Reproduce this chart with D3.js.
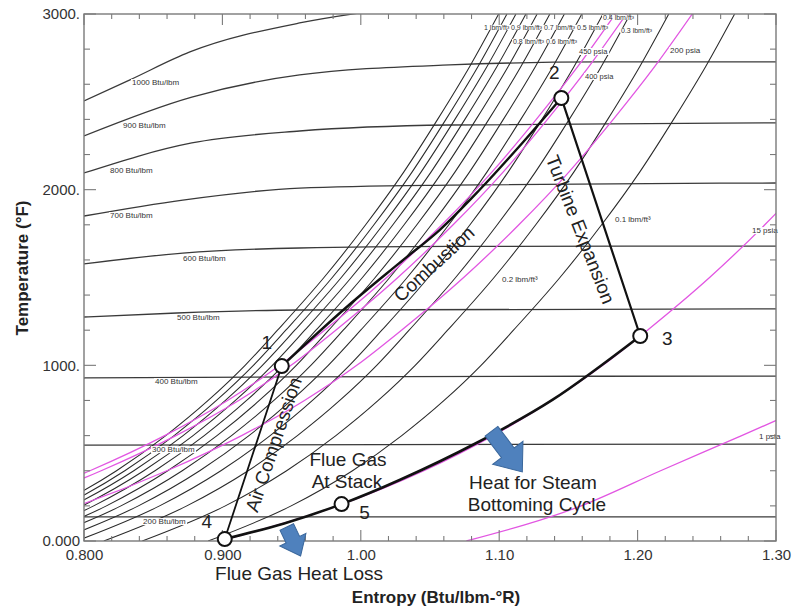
<!DOCTYPE html>
<html>
<head>
<meta charset="utf-8">
<script src="https://cdn.jsdelivr.net/npm/d3@7"></script>
<style>
  body { margin: 0; background: #fff; }
  svg { display: block; }
</style>
</head>
<body>
<svg id="chart" width="793" height="611"></svg>
<script>
// ---- Temperature levels (°F) shared by the steep property lines ----
const tempLevels = [0, 200, 400, 600, 800, 1000, 1200, 1500, 1800, 2100, 2400, 2700, 3000];

// ---- Constant-pressure lines: entropy (Btu/lbm-°R) at each temperature level ----
const isobarLabels = ["450 psia", "400 psia", "200 psia", "15 psia"];
const isobar450 = [0.6551, 0.7399, 0.8043, 0.8583, 0.9037, 0.9415, 0.9738, 1.0187, 1.0586, 1.0947, 1.1268, 1.1567, 1.1839];
const isobar400 = [0.6632, 0.7480, 0.8124, 0.8664, 0.9118, 0.9496, 0.9819, 1.0268, 1.0667, 1.1028, 1.1349, 1.1648, 1.1920];
const isobar200 = [0.7107, 0.7955, 0.8599, 0.9139, 0.9593, 0.9971, 1.0294, 1.0743, 1.1142, 1.1503, 1.1824, 1.2123, 1.2395];
const isobar15  = [0.8984, 0.9832, 1.0456, 1.0956, 1.1380, 1.1748, 1.2071, 1.2520, 1.2919, 1.3280, 1.3601, 1.3900, 1.4172];
const isobar1   = [1.0763, 1.1592, 1.2166, 1.2752, 1.3330];

// ---- Constant-density lines (lbm/ft³): entropy at each temperature level ----
const densityLabels = ["", "", "1 lbm/ft³", "0.9 lbm/ft³", "0.8 lbm/ft³", "0.7 lbm/ft³", "0.6 lbm/ft³",
                       "0.5 lbm/ft³", "0.4 lbm/ft³", "0.3 lbm/ft³", "0.2 lbm/ft³", "0.1 lbm/ft³"];
const density12 = [0.7192, 0.7792, 0.8235, 0.8591, 0.8897, 0.9164, 0.9398, 0.9734, 1.0035, 1.0310, 1.0555, 1.0786, 1.0996];
const density11 = [0.7252, 0.7852, 0.8295, 0.8651, 0.8957, 0.9224, 0.9458, 0.9794, 1.0095, 1.0370, 1.0615, 1.0846, 1.1056];
const density10 = [0.7317, 0.7917, 0.8360, 0.8716, 0.9022, 0.9289, 0.9523, 0.9859, 1.0160, 1.0435, 1.0680, 1.0911, 1.1121];
const density09 = [0.7389, 0.7989, 0.8432, 0.8788, 0.9094, 0.9361, 0.9595, 0.9931, 1.0232, 1.0507, 1.0752, 1.0983, 1.1193];
const density08 = [0.7470, 0.8070, 0.8513, 0.8869, 0.9175, 0.9442, 0.9676, 1.0012, 1.0313, 1.0588, 1.0833, 1.1064, 1.1274];
const density07 = [0.7562, 0.8162, 0.8605, 0.8961, 0.9267, 0.9534, 0.9768, 1.0104, 1.0405, 1.0680, 1.0925, 1.1156, 1.1366];
const density06 = [0.7667, 0.8267, 0.8710, 0.9066, 0.9372, 0.9639, 0.9873, 1.0209, 1.0510, 1.0785, 1.1030, 1.1261, 1.1471];
const density05 = [0.7793, 0.8393, 0.8836, 0.9192, 0.9498, 0.9765, 0.9999, 1.0335, 1.0636, 1.0911, 1.1156, 1.1387, 1.1597];
const density04 = [0.7946, 0.8546, 0.8989, 0.9345, 0.9651, 0.9918, 1.0152, 1.0488, 1.0789, 1.1064, 1.1309, 1.1540, 1.1750];
const density03 = [0.8143, 0.8743, 0.9186, 0.9542, 0.9848, 1.0115, 1.0349, 1.0685, 1.0986, 1.1261, 1.1506, 1.1737, 1.1947];
const density02 = [0.8421, 0.9021, 0.9464, 0.9820, 1.0126, 1.0393, 1.0627, 1.0963, 1.1264, 1.1539, 1.1784, 1.2015, 1.2225];
const density01 = [0.8897, 0.9497, 0.9940, 1.0296, 1.0602, 1.0869, 1.1103, 1.1439, 1.1740, 1.2015, 1.2260, 1.2491, 1.2701];

// ---- Constant-enthalpy lines: [entropy, temperature] pairs ----
const enthalpyLabels = ["200 Btu/lbm", "300 Btu/lbm", "400 Btu/lbm", "500 Btu/lbm", "600 Btu/lbm",
                        "700 Btu/lbm", "800 Btu/lbm", "900 Btu/lbm", "1000 Btu/lbm"];
const enthalpy200  = [[0.800, 137], [1.300, 137]];
const enthalpy300  = [[0.800, 546], [1.300, 552]];
const enthalpy400  = [[0.800, 928], [0.950, 934], [1.300, 939]];
const enthalpy500  = [[0.800, 1275], [0.8671, 1298], [0.9558, 1315], [1.300, 1321]];
const enthalpy600  = [[0.800, 1577], [0.8714, 1639], [0.9558, 1668], [1.0641, 1677], [1.300, 1679]];
const enthalpy700  = [[0.800, 1850], [0.8714, 1941], [0.9558, 2009], [1.0641, 2026], [1.300, 2038]];
const enthalpy800  = [[0.800, 2095], [0.8779, 2266], [0.9558, 2334], [1.0641, 2368], [1.300, 2380]];
const enthalpy900  = [[0.800, 2306], [0.8779, 2527], [0.9558, 2653], [1.0641, 2710], [1.1723, 2727], [1.300, 2727]];
const enthalpy1000 = [[0.800, 2505], [0.8332, 2625], [0.8765, 2784], [0.9558, 2949], [0.9991, 3006], [1.050, 3055]];

// ---- Gas turbine cycle state points ----
const stateNames   = ["1", "2", "3", "4", "5"];
const stateEntropy = [0.9429, 1.1449, 1.2019, 0.9017, 0.9861];
const stateTemp    = [996, 2522, 1167, 11, 210];

// Combustion path 1 -> 2
const combustionEntropy = [0.9429, 0.9898, 1.0280, 1.0569, 1.0857, 1.1167, 1.1449];
const combustionTemp    = [996, 1332, 1583, 1770, 1998, 2266, 2522];
// Exhaust cooling path 3 -> 5 -> 4
const exhaustEntropy = [1.2019, 1.1384, 1.0835, 1.0280, 0.9861, 0.9446, 0.9017];
const exhaustTemp    = [1167, 803, 558, 347, 210, 100, 11];

// ---- Axis tick values and labels ----
const xTickValues = [0.8, 0.9, 1.0, 1.1, 1.2, 1.3];
const xTickLabels = ["0.800", "0.900", "1.00", "1.10", "1.20", "1.30"];
const yTickValues = [0, 1000, 2000, 3000];
const yTickLabels = ["0.000", "1000.", "2000.", "3000."];

// =================== drawing ===================
const svg = d3.select("#chart");
const W = 793, H = 611;
const plot = { left: 84, right: 776, top: 14, bottom: 541 };

const x = d3.scaleLinear().domain([0.8, 1.3]).range([plot.left, plot.right]);
const y = d3.scaleLinear().domain([0, 3000]).range([plot.bottom, plot.top]);

const MAGENTA = "#e256e2";
const FONT = "Arial, 'Liberation Sans', Helvetica, sans-serif";

svg.append("rect").attr("width", W).attr("height", H).attr("fill", "#fff");

svg.append("defs").append("clipPath").attr("id", "plotClip")
  .append("rect")
  .attr("x", plot.left).attr("y", plot.top)
  .attr("width", plot.right - plot.left).attr("height", plot.bottom - plot.top);

const curves = svg.append("g").attr("clip-path", "url(#plotClip)");

const smoothLine = d3.line().x(d => x(d[0])).y(d => y(d[1])).curve(d3.curveMonotoneX);
const pairUp = (sArr, tArr) => sArr.map((s, i) => [s, tArr[i]]);

// Constant-enthalpy lines
[enthalpy200, enthalpy300, enthalpy400, enthalpy500, enthalpy600,
 enthalpy700, enthalpy800, enthalpy900, enthalpy1000].forEach(pts => {
  curves.append("path").attr("d", smoothLine(pts))
    .attr("fill", "none").attr("stroke", "#3a3a3a").attr("stroke-width", 1.3);
});

// Constant-density lines
const densitySeries = [density12, density11, density10, density09, density08, density07, density06,
                       density05, density04, density03, density02, density01];
densitySeries.forEach(sArr => {
  curves.append("path").attr("d", smoothLine(pairUp(sArr, tempLevels)))
    .attr("fill", "none").attr("stroke", "#2a2a2a").attr("stroke-width", 1.05);
});

// Constant-pressure lines
[isobar450, isobar400, isobar200, isobar15, isobar1].forEach(sArr => {
  curves.append("path").attr("d", smoothLine(pairUp(sArr, tempLevels.slice(0, sArr.length))))
    .attr("fill", "none").attr("stroke", MAGENTA).attr("stroke-width", 1.3);
});

// ---- small curve labels (white backed) ----
const smallLabels = svg.append("g").attr("font-family", FONT).attr("fill", "#333");
function smallLabel(text, px, py, size) {
  if (!text) return;
  const g = smallLabels.append("g");
  const t = g.append("text").attr("x", px).attr("y", py).attr("font-size", size)
    .attr("dominant-baseline", "middle").text(text);
  const b = t.node().getBBox();
  g.insert("rect", "text").attr("x", b.x - 1).attr("y", b.y + 1).attr("width", b.width + 2)
    .attr("height", b.height - 2).attr("fill", "#fff");
}
// enthalpy labels
const hSpots = [[143, 522], [152, 450], [155, 382], [177, 318], [183, 259], [110, 216], [110, 171], [123, 126], [132, 83]];
enthalpyLabels.forEach((t, i) => smallLabel(t, hSpots[i][0], hSpots[i][1], 8));
// density labels
const dSpots = [null, null, [484, 28], [511, 28], [513, 42], [544, 28], [546, 42], [577, 28], [603, 18], [621, 31], [502, 280], [615, 220]];
densityLabels.forEach((t, i) => { if (dSpots[i]) smallLabel(t, dSpots[i][0], dSpots[i][1], i >= 10 ? 8 : 7); });
// pressure labels
const pSpots = [[579, 52], [585, 77], [670, 51], [752, 231]];
isobarLabels.forEach((t, i) => smallLabel(t, pSpots[i][0], pSpots[i][1], i < 2 ? 7.5 : 8));
smallLabel("1 psia", 759, 437, 8);

// ---- frame and ticks ----
const axes = svg.append("g").attr("stroke", "#7a7a7a").attr("fill", "none");
axes.append("rect").attr("x", plot.left).attr("y", plot.top)
  .attr("width", plot.right - plot.left).attr("height", plot.bottom - plot.top)
  .attr("stroke-width", 1.4);

const minorX = d3.range(0.8, 1.3001, 0.02);
const minorY = d3.range(0, 3001, 200);
minorX.forEach(v => {
  const major = Math.abs(v * 10 - Math.round(v * 10)) < 1e-6;
  const len = major ? 11 : 5;
  axes.append("line").attr("x1", x(v)).attr("x2", x(v)).attr("y1", plot.bottom).attr("y2", plot.bottom - len).attr("stroke-width", 1.1);
  axes.append("line").attr("x1", x(v)).attr("x2", x(v)).attr("y1", plot.top).attr("y2", plot.top + len).attr("stroke-width", 1.1);
});
minorY.forEach(v => {
  const major = v % 1000 === 0;
  const len = major ? 12 : 6;
  axes.append("line").attr("y1", y(v)).attr("y2", y(v)).attr("x1", plot.left).attr("x2", plot.left + len).attr("stroke-width", 1.1);
  axes.append("line").attr("y1", y(v)).attr("y2", y(v)).attr("x1", plot.right).attr("x2", plot.right - len).attr("stroke-width", 1.1);
});

// tick labels through d3 axes (lines hidden, labels only)
const xAxis = d3.axisBottom(x).tickValues(xTickValues).tickSize(0).tickPadding(0)
  .tickFormat((d, i) => xTickLabels[i]);
const gx = svg.append("g").attr("transform", `translate(0,${plot.bottom + 8})`).call(xAxis);
gx.select(".domain").remove();
gx.selectAll("text").attr("font-family", FONT).attr("font-size", 15).attr("fill", "#333");

const yAxis = d3.axisLeft(y).tickValues(yTickValues).tickSize(0).tickPadding(0)
  .tickFormat((d, i) => yTickLabels[i]);
const gy = svg.append("g").attr("transform", `translate(${plot.left - 4},0)`).call(yAxis);
gy.select(".domain").remove();
gy.selectAll("text").attr("font-family", FONT).attr("font-size", 15).attr("fill", "#333");

// axis titles
svg.append("text").attr("x", 436).attr("y", 603).attr("text-anchor", "middle")
  .attr("font-family", FONT).attr("font-weight", "bold").attr("font-size", 17).attr("fill", "#222")
  .text("Entropy (Btu/lbm-°R)");
svg.append("text").attr("transform", "translate(28,268) rotate(-90)").attr("text-anchor", "middle")
  .attr("font-family", FONT).attr("font-weight", "bold").attr("font-size", 17).attr("fill", "#222")
  .text("Temperature (°F)");

// ---- cycle ----
const cycle = svg.append("g").attr("fill", "none").attr("stroke", "#111").attr("stroke-linecap", "round");
const straight = d3.line().x(d => x(d[0])).y(d => y(d[1]));
const st = i => [stateEntropy[i], stateTemp[i]];
// compression 4 -> 1
cycle.append("path").attr("d", straight([st(3), st(0)])).attr("stroke-width", 1.8);
// combustion 1 -> 2
cycle.append("path").attr("d", d3.line().x(d => x(d[0])).y(d => y(d[1])).curve(d3.curveCatmullRom)(pairUp(combustionEntropy, combustionTemp)))
  .attr("stroke-width", 2.4);
// expansion 2 -> 3
cycle.append("path").attr("d", straight([st(1), st(2)])).attr("stroke-width", 2.2);
// exhaust 3 -> 5 -> 4
cycle.append("path").attr("d", d3.line().x(d => x(d[0])).y(d => y(d[1])).curve(d3.curveCatmullRom)(pairUp(exhaustEntropy, exhaustTemp)))
  .attr("stroke-width", 2.6);

// state circles
svg.append("g").selectAll("circle").data(stateNames).join("circle")
  .attr("cx", (d, i) => x(stateEntropy[i])).attr("cy", (d, i) => y(stateTemp[i]))
  .attr("r", 7).attr("fill", "#fff").attr("stroke", "#111").attr("stroke-width", 2);

// state numbers
const numOffsets = [[-15, -22], [-7, -24], [27, 4], [-18, -16], [23, 10]];
svg.append("g").selectAll("text").data(stateNames).join("text")
  .attr("x", (d, i) => x(stateEntropy[i]) + numOffsets[i][0])
  .attr("y", (d, i) => y(stateTemp[i]) + numOffsets[i][1])
  .attr("text-anchor", "middle").attr("dominant-baseline", "middle")
  .attr("font-family", FONT).attr("font-size", 19).attr("fill", "#222")
  .text(d => d);

// ---- annotation text ----
const ann = svg.append("g").attr("font-family", FONT).attr("font-size", 19).attr("fill", "#222")
  .attr("text-anchor", "middle");
ann.append("text").attr("transform", "translate(435,265) rotate(-42.5)").attr("dominant-baseline", "middle").text("Combustion");
ann.append("text").attr("transform", "translate(579,230) rotate(68.5)").attr("dominant-baseline", "middle").text("Turbine Expansion");
ann.append("text").attr("transform", "translate(275,445) rotate(-71.5)").attr("dominant-baseline", "middle").text("Air Compression");
ann.append("text").attr("x", 348).attr("y", 466).text("Flue Gas");
ann.append("text").attr("x", 347).attr("y", 488).text("At Stack");
ann.append("text").attr("x", 533).attr("y", 489).text("Heat for Steam");
ann.append("text").attr("x", 537).attr("y", 511).text("Bottoming Cycle");
ann.append("text").attr("x", 299).attr("y", 580).text("Flue Gas Heat Loss");

// ---- block arrows ----
function blockArrow(baseS, baseT, tipS, tipT, shaftW, headW, headL) {
  const bx = x(baseS), by = y(baseT), tx = x(tipS), ty = y(tipT);
  const L = Math.hypot(tx - bx, ty - by);
  const ang = Math.atan2(ty - by, tx - bx) * 180 / Math.PI;
  const p = [[0, -shaftW / 2], [L - headL, -shaftW / 2], [L - headL, -headW / 2], [L, 0],
             [L - headL, headW / 2], [L - headL, shaftW / 2], [0, shaftW / 2]];
  svg.append("path").attr("d", "M" + p.map(q => q.join(",")).join("L") + "Z")
    .attr("transform", `translate(${bx},${by}) rotate(${ang})`)
    .attr("fill", "#4f81bd").attr("stroke", "#3a679c").attr("stroke-width", 1);
}
blockArrow(1.0944, 625, 1.1167, 393, 16, 38, 24);
blockArrow(0.9465, 80, 0.9565, -85, 15, 29, 18);
</script>
</body>
</html>
